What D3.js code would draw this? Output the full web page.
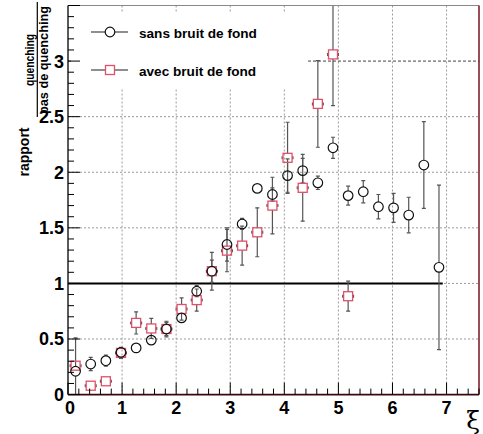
<!DOCTYPE html>
<html><head><meta charset="utf-8">
<script src="https://cdn.jsdelivr.net/npm/d3@7"></script>
<style>body{margin:0;background:#fff}svg{display:block}</style>
</head><body>
<script>
// Data
const xSans = [0.14,0.42,0.70,0.98,1.26,1.54,1.82,2.10,2.38,2.66,2.94,3.22,3.50,3.78,4.06,4.34,4.62,4.90,5.18,5.46,5.74,6.02,6.30,6.58,6.86];
const ySans = [0.21,0.275,0.305,0.38,0.42,0.49,0.59,0.69,0.93,1.11,1.35,1.535,1.855,1.80,1.97,2.015,1.905,2.22,1.79,1.825,1.69,1.68,1.615,2.065,1.145];
const eSans = [0.30,0.06,0.05,0.04,0.03,0.03,0.06,0.03,0.05,0.10,0.15,0.05,0.04,0.06,0.15,0.11,0.06,0.095,0.085,0.10,0.11,0.13,0.16,0.39,0.74];
const xAvec = [0.14,0.42,0.70,0.98,1.26,1.54,1.82,2.10,2.38,2.66,2.94,3.22,3.50,3.78,4.06,4.34,4.62,4.90,5.18];
const yAvec = [0.26,0.08,0.12,0.375,0.645,0.595,0.59,0.77,0.85,1.11,1.295,1.34,1.46,1.70,2.13,1.86,2.615,3.06,0.885];
const eAvec = [0.04,0.03,0.03,0.05,0.10,0.09,0.07,0.10,0.10,0.17,0.19,0.175,0.22,0.255,0.32,0.30,0.39,0.46,0.135];
const exErr = 0.1;
const xTicks = [0,1,2,3,4,5,6,7];
const yTicks = [0,0.5,1,1.5,2,2.5,3];
const refLine = {y:1, x0:0, x1:6.93};
const legendLabels = ["sans bruit de fond","avec bruit de fond"];

const W=483,H=434;
const L=68,R=479,T=5.5,B=394.6;
const x=d3.scaleLinear().domain([0,7.6]).range([L,R]);
const y=d3.scaleLinear().domain([0,3.5]).range([B,T]);
const svg=d3.select("body").append("svg").attr("width",W).attr("height",H);
const font="'Liberation Sans', Arial, Helvetica, sans-serif";
const red="#e0506a";

svg.append("defs").append("clipPath").attr("id","clip").append("rect")
  .attr("x",L).attr("y",T).attr("width",R-L).attr("height",B-T);

// grid
const grid=svg.append("g").attr("stroke","#9a9a9a").attr("stroke-width",1).attr("stroke-dasharray","2,2");
xTicks.filter(t=>t>0).forEach(t=>grid.append("line").attr("x1",x(t)).attr("x2",x(t)).attr("y1",T).attr("y2",B));
yTicks.filter(t=>t>0).forEach(t=>grid.append("line").attr("x1",L).attr("x2",R).attr("y1",y(t)).attr("y2",y(t))
  .attr("stroke",t===3?"#444":null).attr("stroke-dasharray",t===3?"3,2":null));

// legend box
svg.append("rect").attr("x",72).attr("y",13).attr("width",236).attr("height",75).attr("fill","#fff");

// reference line
svg.append("line").attr("x1",x(refLine.x0)).attr("x2",x(refLine.x1)).attr("y1",y(refLine.y)).attr("y2",y(refLine.y))
  .attr("stroke","#000").attr("stroke-width",2);

const data=svg.append("g").attr("clip-path","url(#clip)");
function errs(g,xs,ys,es,gap,hx,col){
  xs.forEach((xv,i)=>{
    const cx=x(xv),cy=y(ys[i]),top=y(ys[i]+es[i]),bot=y(ys[i]-es[i]);
    const gg=g.append("g").attr("stroke",col).attr("stroke-width",1.2);
    if(cy-top>gap){gg.append("line").attr("x1",cx).attr("x2",cx).attr("y1",cy-gap).attr("y2",top);
      gg.append("line").attr("x1",cx-2).attr("x2",cx+2).attr("y1",top).attr("y2",top);}
    if(bot-cy>gap){gg.append("line").attr("x1",cx).attr("x2",cx).attr("y1",cy+gap).attr("y2",bot);
      gg.append("line").attr("x1",cx-2).attr("x2",cx+2).attr("y1",bot).attr("y2",bot);}
    if(hx){const xl=x(xv-hx),xr=x(xv+hx);
      if(cx-xl>gap){gg.append("line").attr("x1",xl).attr("x2",cx-gap).attr("y1",cy).attr("y2",cy);
        gg.append("line").attr("x1",xl).attr("x2",xl).attr("y1",cy-1.5).attr("y2",cy+1.5);
        gg.append("line").attr("x1",cx+gap).attr("x2",xr).attr("y1",cy).attr("y2",cy);
        gg.append("line").attr("x1",xr).attr("x2",xr).attr("y1",cy-1.5).attr("y2",cy+1.5);}
    }
  });
}
errs(data,xAvec,yAvec,eAvec,4.5,exErr,"#555");
errs(data,xSans,ySans,eSans,4.8,0.07,"#555");
data.selectAll("rect.sq").data(xAvec).join("rect").attr("class","sq")
  .attr("x",(d)=>x(d)-4.5).attr("y",(d,i)=>y(yAvec[i])-4.5).attr("width",9).attr("height",9)
  .attr("fill","none").attr("stroke",red).attr("stroke-width",1.3);
data.selectAll("circle").data(xSans).join("circle")
  .attr("cx",d=>x(d)).attr("cy",(d,i)=>y(ySans[i])).attr("r",4.8)
  .attr("fill","none").attr("stroke","#111").attr("stroke-width",1.2);

// frame
svg.append("line").attr("x1",L).attr("x2",R).attr("y1",T).attr("y2",T).attr("stroke","#888").attr("stroke-width",1.2);
svg.append("line").attr("x1",R).attr("x2",R).attr("y1",T).attr("y2",B).attr("stroke","#7a1020").attr("stroke-width",1.5);
svg.append("line").attr("x1",L).attr("x2",R).attr("y1",B).attr("y2",B).attr("stroke","#3a0810").attr("stroke-width",1.6);
svg.append("line").attr("x1",L).attr("x2",L).attr("y1",T).attr("y2",B).attr("stroke","#000").attr("stroke-width",1.3);

// ticks
const tk=svg.append("g").attr("stroke","#000").attr("stroke-width",1);
d3.range(0,3.5001,0.1).forEach(v=>{const major=Math.abs(v*2-Math.round(v*2))<1e-6;
  tk.append("line").attr("x1",L).attr("x2",L+(major?12:6)).attr("y1",y(v)).attr("y2",y(v));});
d3.range(0,7.6001,0.2).forEach(v=>{const major=Math.abs(v-Math.round(v))<1e-6;
  tk.append("line").attr("x1",x(v)).attr("x2",x(v)).attr("y1",B).attr("y2",B-(major?12:6));});

// tick labels
svg.append("g").selectAll("text").data(yTicks).join("text")
  .attr("x",64).attr("y",d=>y(d)).attr("dy","0.36em").attr("text-anchor","end")
  .attr("font-family",font).attr("font-weight","bold").attr("font-size",18).text(d=>d3.format("")(d));
svg.append("g").selectAll("text").data(xTicks).join("text")
  .attr("x",d=>x(d)+(d===0?2:0)).attr("y",414).attr("text-anchor","middle")
  .attr("font-family",font).attr("font-weight","bold").attr("font-size",18).text(d=>d);

// axis titles
svg.append("text").attr("x",480).attr("y",429).attr("text-anchor","end")
  .attr("font-family","'DejaVu Serif','Liberation Serif',serif").attr("font-size",25).text("ξ");
const yt=svg.append("g").attr("font-family",font).attr("font-weight","bold").attr("font-size",14).attr("text-anchor","middle");
yt.append("text").attr("transform","translate(29,152) rotate(-90)").text("rapport");
yt.append("text").attr("transform","translate(33.5,60) rotate(-90)").attr("font-size",13)
  .attr("textLength",52).attr("lengthAdjust","spacingAndGlyphs").text("quenching");
yt.append("text").attr("transform","translate(47.5,60) rotate(-90)").attr("font-size",13)
  .attr("textLength",108).attr("lengthAdjust","spacingAndGlyphs").text("pas de quenching");
svg.append("line").attr("x1",37.3).attr("x2",37.3).attr("y1",2).attr("y2",117).attr("stroke","#000").attr("stroke-width",1.2);

// legend
const lg=svg.append("g");
[32,70].forEach((ly,i)=>{
  lg.append("line").attr("x1",91).attr("x2",105.2).attr("y1",ly).attr("y2",ly).attr("stroke","#444").attr("stroke-width",1.2);
  lg.append("line").attr("x1",114.8).attr("x2",128).attr("y1",ly).attr("y2",ly).attr("stroke","#444").attr("stroke-width",1.2);
  if(i===0) lg.append("circle").attr("cx",110).attr("cy",ly).attr("r",4.8).attr("fill","none").attr("stroke","#111").attr("stroke-width",1.2);
  else lg.append("rect").attr("x",105.5).attr("y",ly-4.5).attr("width",9).attr("height",9).attr("fill","none").attr("stroke",red).attr("stroke-width",1.3);
  lg.append("text").attr("x",139).attr("y",ly+5.5).attr("font-family",font).attr("font-weight","bold").attr("font-size",13.6).text(legendLabels[i]);
});
</script>
</body></html>
